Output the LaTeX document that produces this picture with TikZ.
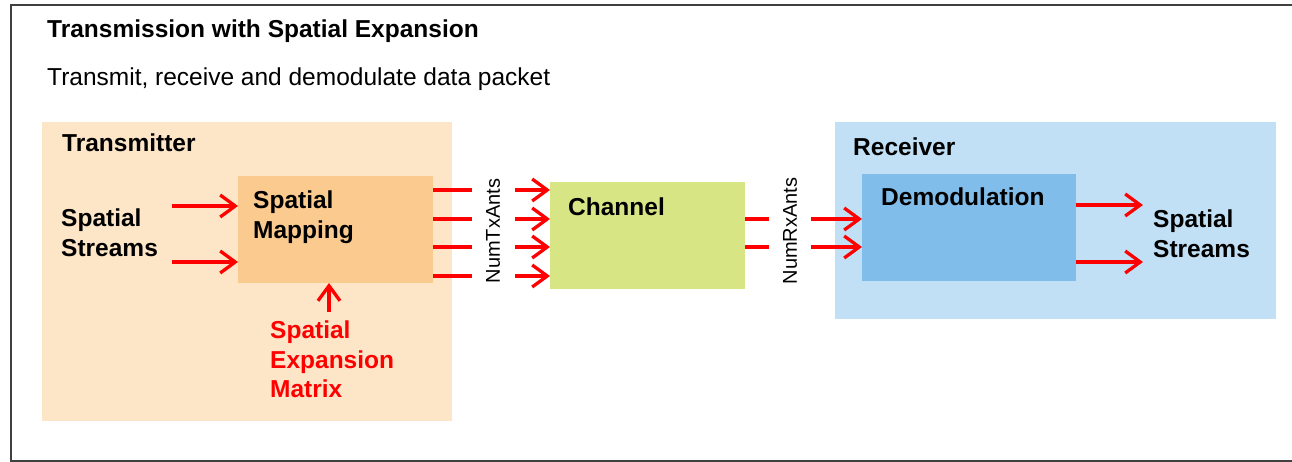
\documentclass[tikz,border=0pt]{standalone}
\usepackage{fontspec}
\setmainfont{Liberation Sans}
\usetikzlibrary{arrows.meta}
\definecolor{txbg}{HTML}{FDE5C8}
\definecolor{mapbg}{HTML}{FACA8F}
\definecolor{chbg}{HTML}{D7E584}
\definecolor{rxbg}{HTML}{C1E0F6}
\definecolor{dmbg}{HTML}{80BDEB}
\definecolor{framecol}{HTML}{404040}
\begin{document}
\begin{tikzpicture}[x=1pt,y=-1pt,
  box/.style={draw=none, inner sep=0pt, outer sep=0pt, anchor=north west},
  lbl/.style={inner sep=0pt, anchor=base west, font=\fontsize{24.5}{29.5}\selectfont\bfseries},
  plainlbl/.style={inner sep=0pt, anchor=base west, font=\fontsize{24.5}{29.5}\selectfont},
  mlbl/.style={inner sep=0pt, anchor=north west, align=left, font=\fontsize{24.5}{29.5}\selectfont\bfseries},
  sig/.style={draw=red, line width=3.3pt},
  sigarr/.style={sig, -{Straight Barb[length=15pt,width=22pt,line width=3.3pt]}},
  ants/.style={inner sep=0pt, rotate=90, font=\fontsize{20}{24}\selectfont}
]
\useasboundingbox (0,0) rectangle (1292,462);
\fill[white] (0,0) rectangle (1292,462);
\draw[framecol, line width=2.5pt] (1292,5) -- (11,5) -- (11,461) -- (1292,461);

% boxes
\node[box, fill=txbg, minimum width=410pt, minimum height=299pt] (tx) at (42,122) {};
\node[box, fill=mapbg, minimum width=195pt, minimum height=107pt] (map) at (238,176) {};
\node[box, fill=chbg, minimum width=195pt, minimum height=107pt] (ch) at (550,182) {};
\node[box, fill=rxbg, minimum width=441pt, minimum height=197pt] (rx) at (835,122) {};
\node[box, fill=dmbg, minimum width=214pt, minimum height=107pt] (dm) at (862,174) {};

% texts
\node[lbl] (title) at (47,38) {Transmission with Spatial Expansion};
\node[plainlbl] (sub) at (47,86) {Transmit, receive and demodulate data packet};
\node[lbl] (txl) at (62,152) {Transmitter};
\node[lbl] (rxl) at (853,156) {Receiver};
\node[mlbl] (mapl) at (253,191) {Spatial\\Mapping};
\node[lbl] (chl) at (568,216) {Channel};
\node[lbl] (dml) at (881,206) {Demodulation};
\node[mlbl] (ssin) at (61,209) {Spatial\\Streams};
\node[mlbl] (ssout) at (1153,210) {Spatial\\Streams};
\node[mlbl, text=red] (sem) at (270,321) {Spatial\\Expansion\\Matrix};
\node[ants] (ntx) at (493,231) {NumTxAnts};
\node[ants] (nrx) at (790,231) {NumRxAnts};

% input arrows
\coordinate (in1) at (172,206);
\coordinate (in2) at (172,262);
\draw[sigarr] (in1) -- (map.west |- in1);
\draw[sigarr] (in2) -- (map.west |- in2);

% spatial expansion matrix arrow
\coordinate (semtip) at (329,312);
\draw[sigarr] (semtip) -- (semtip |- map.south);

% mapping -> channel
\foreach \i/\yy in {1/190,2/219,3/247,4/276}{
  \coordinate (mo\i) at (472,\yy);
  \coordinate (ci\i) at (515,\yy);
  \draw[sig] (map.east |- mo\i) -- (mo\i);
  \draw[sigarr] (ci\i) -- (ch.west |- ci\i);
}

% channel -> demodulation
\foreach \i/\yy in {1/219,2/247}{
  \coordinate (co\i) at (769,\yy);
  \coordinate (di\i) at (811,\yy);
  \draw[sig] (ch.east |- co\i) -- (co\i);
  \draw[sigarr] (di\i) -- (dm.west |- di\i);
}

% demodulation outputs
\coordinate (out1) at (1143,205);
\coordinate (out2) at (1143,262);
\draw[sigarr] (dm.east |- out1) -- (out1);
\draw[sigarr] (dm.east |- out2) -- (out2);
\end{tikzpicture}
\end{document}
